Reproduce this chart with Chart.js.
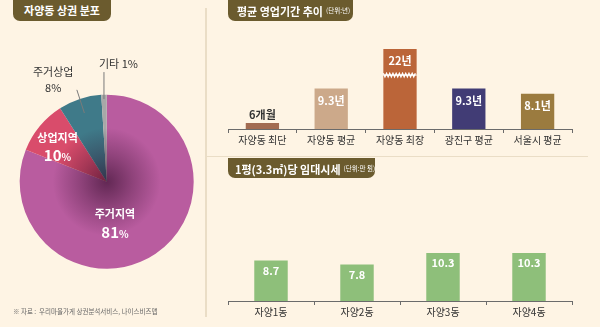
<!DOCTYPE html>
<html><head><meta charset="utf-8">
<script src="https://cdn.jsdelivr.net/npm/chart.js@4.4.1/dist/chart.umd.min.js"></script>
<style>
html,body{margin:0;padding:0;}
body{width:600px;height:327px;background:#FEF4E4;position:relative;overflow:hidden;font-family:'Noto Sans CJK KR',sans-serif;}
.tag{position:absolute;background:#6B5B2E;color:#fff;font-weight:700;font-size:11px;border-radius:0 0 7px 7px;box-sizing:border-box;height:21px;line-height:21px;white-space:nowrap;}
.tag small{font-size:6.5px;font-weight:400;vertical-align:3px;margin-left:3px;}
.vline{position:absolute;left:205px;top:8px;width:2px;height:309px;background:#EADDC6;}
.hline{position:absolute;left:207px;top:156px;width:381px;height:1px;background:#EADDC6;}
.note{position:absolute;left:13px;top:306px;font-size:6.5px;color:#666;white-space:nowrap;}
canvas{position:absolute;}
</style></head><body>
<div class="vline"></div>
<div class="hline"></div>
<canvas id="pie" width="205" height="327" style="left:0;top:0;width:205px;height:327px"></canvas>
<canvas id="period" width="400" height="120" style="left:200px;top:30px;width:400px;height:120px"></canvas>
<canvas id="rent" width="400" height="87" style="left:200px;top:235px;width:400px;height:87px"></canvas>
<div class="tag" style="left:13px;top:0;width:98px;text-align:center;">자양동 상권 분포</div>
<div class="tag" style="left:228px;top:0;width:125px;padding-left:9px;">평균 영업기간 추이<small>(단위:년)</small></div>
<div class="tag" style="left:228px;top:158px;width:147px;height:20px;line-height:20px;padding-left:7px;">1평(3.3㎡)당 임대시세<small>(단위:만 원)</small></div>
<div class="note">※ 자료 :&nbsp; 우리마을가게 상권분석서비스, 나이스비즈맵</div>
<script>
const FONT = "'Noto Sans CJK KR', sans-serif";

// ---- data ----
const pieLabels = ['주거지역', '상업지역', '주거상업', '기타'];
const pieValues = [81, 10, 8, 1];
const pieColors = ['#B95C9F', '#D94C6B', '#3F7A89', '#A8A8A8'];

const periodCategories = ['자양동 최단', '자양동 평균', '자양동 최장', '광진구 평균', '서울시 평균'];
const periodValues = [0.5, 9.3, 22, 9.3, 8.1];
const periodValueLabels = ['6개월', '9.3년', '22년', '9.3년', '8.1년'];
const periodColors = ['#A26B51', '#CCA98A', '#BB6539', '#413C75', '#9B7B3F'];
const periodBreakAt = 18.4;      // broken-axis cap for the 22-year bar
const periodBreakMark = 12.4;    // where the zigzag break is drawn

const rentCategories = ['자양1동', '자양2동', '자양3동', '자양4동'];
const rentValues = [8.7, 7.8, 10.3, 10.3];
const rentColor = '#8EBF7A';

Chart.defaults.font.family = FONT;
Chart.defaults.animation = false;

// ---- pie ----
const pieLabelSpec = [
  {lines: [{t: '주거지역', f: 'bold 11px'}, {t: '81', f: 'bold 15px', s: '%', sf: 'bold 10px'}], ang: 168.8, rf: 0.49, gap: 18.5, color: '#fff'},
  {lines: [{t: '상업지역', f: 'bold 11px'}, {t: '10', f: 'bold 15px', s: '%', sf: 'bold 10px'}], ang: 305.6, rf: 0.695, gap: 18, color: '#fff'},
  {lines: [{t: '주거상업', f: '11px'}, {t: '8%', f: '11px'}], ang: 332.2, rf: 1.32, gap: 16, color: '#333', leader: [0.83, 1.11]},
  {lines: [{t: '기타 1%', f: '11px'}], ang: 5.7, rf: 1.36, gap: 0, color: '#333', leader: [0.95, 1.26], vertical: true}
];

const pieDeco = {
  id: 'pieDeco',
  afterDatasetsDraw(chart) {
    const meta = chart.getDatasetMeta(0);
    const a0 = meta.data[0];
    const x = a0.x, y = a0.y, r = a0.outerRadius;
    const c = chart.ctx;
    c.save();
    c.beginPath(); c.arc(x, y, r, 0, Math.PI * 2); c.clip();
    const g = c.createRadialGradient(x, y, 0, x, y, r);
    g.addColorStop(0, 'rgba(45,8,38,0.62)');
    g.addColorStop(0.3, 'rgba(45,8,38,0.3)');
    g.addColorStop(0.62, 'rgba(45,8,38,0)');
    c.fillStyle = g; c.fillRect(x - r, y - r, 2 * r, 2 * r);
    c.restore();

    c.save();
    c.textAlign = 'center'; c.textBaseline = 'middle';
    pieLabelSpec.forEach((sp, i) => {
      const arc = meta.data[i];
      if (sp.leader) {
        const mid = (arc.startAngle + arc.endAngle) / 2;
        c.strokeStyle = '#7a7a7a'; c.lineWidth = 1;
        c.beginPath();
        if (sp.vertical) {
          const lx = x + Math.cos(mid) * r;
          c.moveTo(lx, y - sp.leader[0] * r); c.lineTo(lx, y - sp.leader[1] * r);
        } else {
          c.moveTo(x + Math.cos(mid) * r * sp.leader[0], y + Math.sin(mid) * r * sp.leader[0]);
          c.lineTo(x + Math.cos(mid) * r * sp.leader[1], y + Math.sin(mid) * r * sp.leader[1]);
        }
        c.stroke();
      }
      const ang = sp.ang * Math.PI / 180;
      const cx = x + Math.sin(ang) * r * sp.rf;
      const cy = y - Math.cos(ang) * r * sp.rf;
      const n = sp.lines.length;
      c.fillStyle = sp.color;
      sp.lines.forEach((ln, k) => {
        const ly = cy + (k - (n - 1) / 2) * sp.gap;
        if (ln.s) {
          c.font = ln.f + ' ' + FONT; const w1 = c.measureText(ln.t).width;
          c.font = ln.sf + ' ' + FONT; const w2 = c.measureText(ln.s).width;
          const left = cx - (w1 + w2) / 2;
          c.textAlign = 'left';
          c.font = ln.f + ' ' + FONT; c.fillText(ln.t, left, ly);
          c.font = ln.sf + ' ' + FONT; c.fillText(ln.s, left + w1, ly + 1.5);
          c.textAlign = 'center';
        } else {
          c.font = ln.f + ' ' + FONT;
          c.fillText(ln.t, cx, ly);
        }
      });
    });
    c.restore();
  }
};

new Chart(document.getElementById('pie'), {
  type: 'pie',
  data: {labels: pieLabels, datasets: [{data: pieValues, backgroundColor: pieColors, borderWidth: 0, hoverOffset: 0, offset: 0}]},
  options: {
    responsive: false,
    layout: {padding: {left: 19.7, right: 11.3, top: 94.7, bottom: 58.3}},
    plugins: {legend: {display: false}, tooltip: {enabled: false}}
  },
  plugins: [pieDeco]
});

// ---- shared bar helpers ----
function xAxis() {
  return {
    grid: {display: true, drawOnChartArea: false, drawTicks: true, tickLength: 4, color: '#6b6b6b', lineWidth: 1, offset: true},
    border: {display: true, color: '#6b6b6b', width: 1},
    ticks: {color: '#333', font: {family: FONT, size: 10}, padding: 1},
    afterFit(s) { s.height = 21; }
  };
}

function valueLabels(texts, styleFn) {
  return {
    id: 'vl',
    afterDatasetsDraw(chart) {
      const meta = chart.getDatasetMeta(0); const c = chart.ctx;
      c.save(); c.textAlign = 'center'; c.textBaseline = 'middle';
      meta.data.forEach((bar, i) => {
        const o = styleFn(i);
        c.font = o.font + ' ' + FONT; c.fillStyle = o.color;
        c.fillText(texts[i], bar.x, bar.y + o.dy);
      });
      c.restore();
    }
  };
}

const zigzag = {
  id: 'zigzag',
  afterDatasetsDraw(chart) {
    const meta = chart.getDatasetMeta(0); const c = chart.ctx;
    const yS = chart.scales.y;
    periodValues.forEach((v, i) => {
      if (v <= periodBreakAt) return;
      const bar = meta.data[i];
      const y0 = yS.getPixelForValue(periodBreakMark);
      const l = bar.x - bar.width / 2, rr = bar.x + bar.width / 2;
      c.save();
      c.strokeStyle = '#fff'; c.lineWidth = 1.3;
      c.beginPath();
      let up = true;
      for (let xx = l; xx <= rr + 0.01; xx += 1.6) {
        const yy = y0 + (up ? -1.8 : 1.8);
        if (xx === l) c.moveTo(xx, yy); else c.lineTo(xx, yy);
        up = !up;
      }
      c.stroke();
      c.fillStyle = '#fff';
      c.fillRect(l, y0 - 0.6, rr - l, 1.2);
      c.restore();
    });
  }
};

// ---- period bar ----
new Chart(document.getElementById('period'), {
  type: 'bar',
  data: {labels: periodCategories, datasets: [{
    data: periodValues.map(v => Math.min(v, periodBreakAt)),
    backgroundColor: periodColors, borderWidth: 0, minBarLength: 6,
    barPercentage: 0.484, categoryPercentage: 1
  }]},
  options: {
    responsive: false,
    layout: {padding: {left: 28, right: 28, top: 12, bottom: 0}},
    scales: {x: xAxis(), y: {display: false, min: 0, max: 20}},
    plugins: {legend: {display: false}, tooltip: {enabled: false}}
  },
  plugins: [zigzag, valueLabels(periodValueLabels, i => i === 0
    ? {font: 'bold 11px', color: '#333', dy: -8}
    : {font: 'bold 11px', color: '#fff', dy: 12})]
});

// ---- rent bar ----
new Chart(document.getElementById('rent'), {
  type: 'bar',
  data: {labels: rentCategories, datasets: [{
    data: rentValues, backgroundColor: rentColor, borderWidth: 0,
    barPercentage: 0.389, categoryPercentage: 1
  }]},
  options: {
    responsive: false,
    layout: {padding: {left: 28, right: 28, top: 10, bottom: 0}},
    scales: {x: xAxis(), y: {display: false, min: 0, max: 12}},
    plugins: {legend: {display: false}, tooltip: {enabled: false}}
  },
  plugins: [valueLabels(rentValues.map(String), () => ({font: 'bold 11px', color: '#fff', dy: 10}))]
});
</script>
</body></html>
